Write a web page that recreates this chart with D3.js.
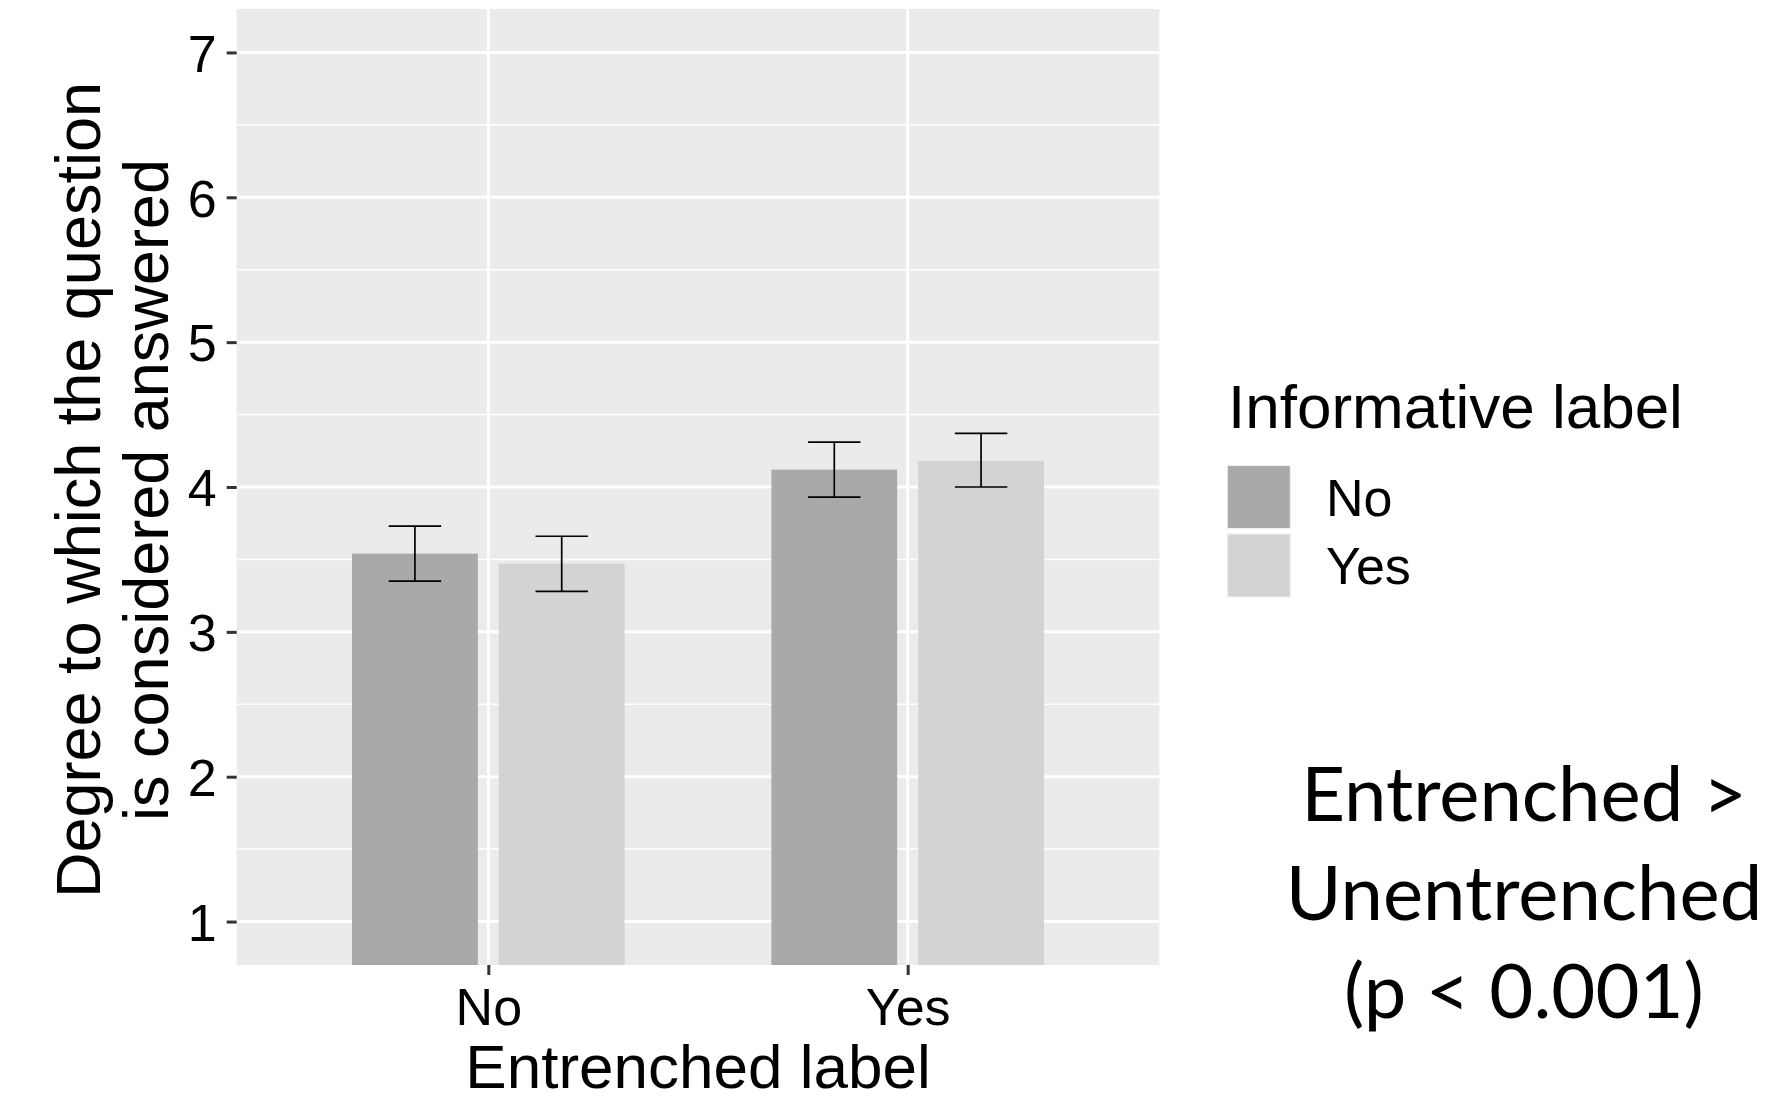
<!DOCTYPE html>
<html>
<head>
<meta charset="utf-8">
<script src="https://cdn.jsdelivr.net/npm/d3@7"></script>
<style>
  html, body { margin: 0; padding: 0; background: #ffffff; }
  svg { display: block; }
</style>
</head>
<body>
<script>
// Grouping factors
const entrenched = ["No", "Yes"];          // x-axis categories
const informative = ["No", "Yes"];         // fill groups

// Mean rating per cell, indexed [entrenched][informative]
const meanNo  = [3.54, 3.47];              // Entrenched = No
const meanYes = [4.12, 4.18];              // Entrenched = Yes

// Error bar limits, same layout
const lowerNo  = [3.35, 3.28];
const upperNo  = [3.73, 3.66];
const lowerYes = [3.93, 4.00];
const upperYes = [4.31, 4.37];

const yTicks = [1, 2, 3, 4, 5, 6, 7];
const yMinor = [1.5, 2.5, 3.5, 4.5, 5.5, 6.5];

const fillColors = ["#a9a9a9", "#d3d3d3"];

const noteLines = ["Entrenched >", "Unentrenched", "(p < 0.001)"];

// Long-form table built from the arrays above
const means = [meanNo, meanYes];
const lowers = [lowerNo, lowerYes];
const uppers = [upperNo, upperYes];
const cells = [];
entrenched.forEach((e, i) => {
  informative.forEach((f, j) => {
    cells.push({ ent: e, inf: f, mean: means[i][j], lo: lowers[i][j], hi: uppers[i][j] });
  });
});

const W = 1766, H = 1101;
const panel = { left: 236.7, right: 1159.3, top: 9, bottom: 965 };
const sansFont = "'Liberation Sans', Arial, sans-serif";

const svg = d3.select("body").append("svg")
  .attr("width", W).attr("height", H)
  .attr("viewBox", `0 0 ${W} ${H}`);

svg.append("rect").attr("width", W).attr("height", H).attr("fill", "#ffffff");

// Scales: y limited to 1..7 with 5% expansion, x discrete with 0.6 padding
const y = d3.scaleLinear().domain([0.7, 7.3]).range([panel.bottom, panel.top]);
const x = d3.scalePoint().domain(entrenched).range([panel.left, panel.right]).padding(0.6);
const step = x.step();
const dodge = d3.scaleBand().domain(informative)
  .range([-0.35 * step, 0.35 * step]).padding(0);
const barW = 0.3 * step;
const capW = 0.125 * step;
const fill = d3.scaleOrdinal().domain(informative).range(fillColors);

// Panel background
svg.append("rect")
  .attr("x", panel.left).attr("y", panel.top)
  .attr("width", panel.right - panel.left)
  .attr("height", panel.bottom - panel.top)
  .attr("fill", "#ebebeb");

svg.append("clipPath").attr("id", "panel-clip")
  .append("rect")
  .attr("x", panel.left).attr("y", panel.top)
  .attr("width", panel.right - panel.left)
  .attr("height", panel.bottom - panel.top);

const grid = svg.append("g");
grid.selectAll("line.minor").data(yMinor).join("line")
  .attr("class", "minor")
  .attr("x1", panel.left).attr("x2", panel.right)
  .attr("y1", d => y(d)).attr("y2", d => y(d))
  .attr("stroke", "#ffffff").attr("stroke-width", 1.5);
grid.selectAll("line.majorY").data(yTicks).join("line")
  .attr("class", "majorY")
  .attr("x1", panel.left).attr("x2", panel.right)
  .attr("y1", d => y(d)).attr("y2", d => y(d))
  .attr("stroke", "#ffffff").attr("stroke-width", 3);
grid.selectAll("line.majorX").data(entrenched).join("line")
  .attr("class", "majorX")
  .attr("x1", d => x(d)).attr("x2", d => x(d))
  .attr("y1", panel.top).attr("y2", panel.bottom)
  .attr("stroke", "#ffffff").attr("stroke-width", 3);

// Bars (start at zero, clipped to the panel)
const plot = svg.append("g").attr("clip-path", "url(#panel-clip)");
const cx = d => x(d.ent) + dodge(d.inf) + dodge.bandwidth() / 2;

plot.selectAll("rect.bar").data(cells).join("rect")
  .attr("class", "bar")
  .attr("x", d => cx(d) - barW / 2)
  .attr("width", barW)
  .attr("y", d => y(d.mean))
  .attr("height", d => y(0) - y(d.mean))
  .attr("fill", d => fill(d.inf));

// Error bars
const eb = plot.selectAll("g.err").data(cells).join("g").attr("class", "err")
  .attr("stroke", "#000000").attr("stroke-width", 1.7).attr("fill", "none");
eb.append("line")
  .attr("x1", cx).attr("x2", cx)
  .attr("y1", d => y(d.lo)).attr("y2", d => y(d.hi));
eb.append("line")
  .attr("x1", d => cx(d) - capW / 2).attr("x2", d => cx(d) + capW / 2)
  .attr("y1", d => y(d.hi)).attr("y2", d => y(d.hi));
eb.append("line")
  .attr("x1", d => cx(d) - capW / 2).attr("x2", d => cx(d) + capW / 2)
  .attr("y1", d => y(d.lo)).attr("y2", d => y(d.lo));

// Y axis
const yAxis = d3.axisLeft(y).tickValues(yTicks).tickSize(10).tickPadding(10).tickFormat(d3.format("d"));
const gy = svg.append("g").attr("transform", `translate(${panel.left},0)`).call(yAxis);
gy.select(".domain").remove();
gy.selectAll(".tick line").attr("stroke", "#333333").attr("stroke-width", 3);
gy.selectAll(".tick text")
  .attr("fill", "#000000")
  .style("font-family", sansFont).style("font-size", "52px")
  .attr("dy", "0.36em");

// X axis
const xAxis = d3.axisBottom(x).tickSize(10).tickPadding(10);
const gx = svg.append("g").attr("transform", `translate(0,${panel.bottom})`).call(xAxis);
gx.select(".domain").remove();
gx.selectAll(".tick line").attr("stroke", "#333333").attr("stroke-width", 3);
gx.selectAll(".tick text")
  .attr("fill", "#000000")
  .style("font-family", sansFont).style("font-size", "52px")
  .attr("y", 60).attr("dy", 0);

// Axis titles
svg.append("text")
  .attr("x", (panel.left + panel.right) / 2).attr("y", 1088)
  .attr("text-anchor", "middle")
  .style("font-family", sansFont).style("font-size", "62px")
  .attr("fill", "#000000")
  .text("Entrenched label");

const yTitle = ["Degree to which the question", "is considered answered"];
const yTitleX = [100, 168];
const midY = (panel.top + panel.bottom) / 2 + 3;
svg.selectAll("text.ytitle").data(yTitle).join("text")
  .attr("class", "ytitle")
  .attr("transform", (d, i) => `translate(${yTitleX[i]},${midY}) rotate(-90)`)
  .attr("text-anchor", "middle")
  .style("font-family", sansFont).style("font-size", "63px")
  .attr("fill", "#000000")
  .text(d => d);

// Legend
const legend = svg.append("g");
legend.append("text")
  .attr("x", 1228).attr("y", 428)
  .style("font-family", sansFont).style("font-size", "62px")
  .attr("fill", "#000000")
  .text("Informative label");
const keySize = 63, keyGap = 5.5, keyTop = 465.5, keyLeft = 1227.3;
const keys = legend.selectAll("g.key").data(informative).join("g").attr("class", "key")
  .attr("transform", (d, i) => `translate(${keyLeft},${keyTop + i * (keySize + keyGap)})`);
keys.append("rect")
  .attr("width", keySize).attr("height", keySize)
  .attr("fill", d => fill(d))
  .attr("stroke", "#f2f2f2").attr("stroke-width", 1);
keys.append("text")
  .attr("x", 1326 - keyLeft).attr("y", keySize / 2)
  .attr("dy", "0.36em")
  .style("font-family", sansFont).style("font-size", "52px")
  .attr("fill", "#000000")
  .text(d => d);

// Significance note
svg.selectAll("text.note").data(noteLines).join("text")
  .attr("class", "note")
  .attr("x", 1524).attr("y", (d, i) => 821 + i * 98.5)
  .attr("text-anchor", "middle")
  .style("font-family", "Lato, 'Open Sans', sans-serif").style("font-size", "76px")
  .attr("fill", "#000000")
  .text(d => d);
</script>
</body>
</html>
